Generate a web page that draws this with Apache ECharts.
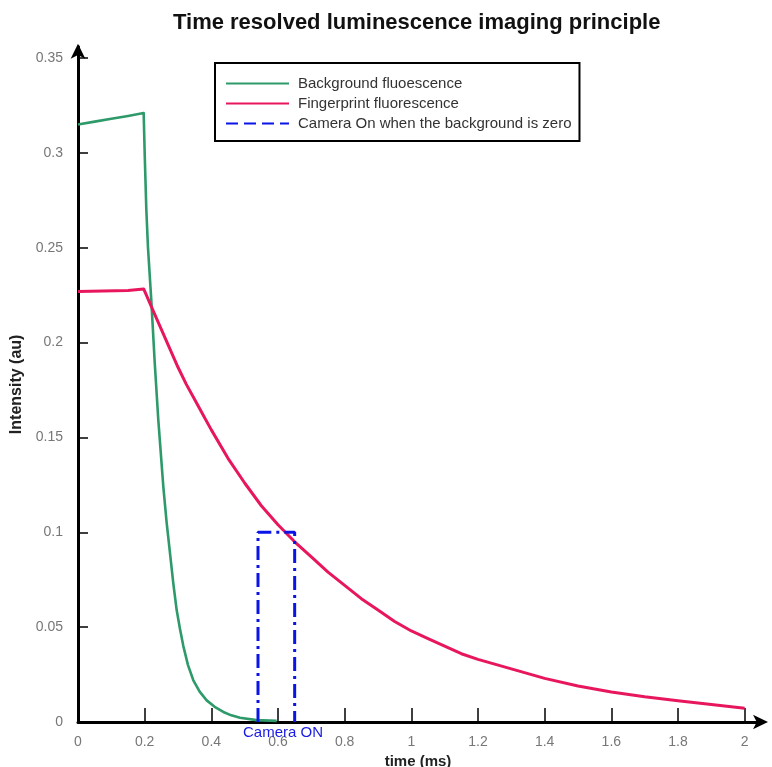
<!DOCTYPE html>
<html>
<head>
<meta charset="utf-8">
<script src="https://cdn.jsdelivr.net/npm/echarts@6/dist/echarts.min.js"></script>
<style>html,body{margin:0;padding:0;background:#fff}#c{width:772px;height:767px}</style>
</head>
<body>
<div id="c"></div>
<script>
var titleText = 'Time resolved luminescence imaging principle';
var seriesNames = ['Background fluoescence', 'Fingerprint fluorescence', 'Camera On when the background is zero'];
var xTicks = [0, 0.2, 0.4, 0.6, 0.8, 1, 1.2, 1.4, 1.6, 1.8, 2];
var yTicks = [0, 0.05, 0.1, 0.15, 0.2, 0.25, 0.3, 0.35];

var backgroundData = [
  [0, 0.315], [0.05, 0.3165], [0.1, 0.318], [0.15, 0.3195], [0.197, 0.321],
  [0.2, 0.30], [0.205, 0.27], [0.21, 0.25], [0.22, 0.222], [0.23, 0.19],
  [0.241, 0.159], [0.256, 0.124], [0.266, 0.105], [0.276, 0.089], [0.286, 0.073],
  [0.296, 0.059], [0.306, 0.049], [0.316, 0.040], [0.33, 0.030], [0.346, 0.022],
  [0.365, 0.016], [0.386, 0.0114], [0.41, 0.008], [0.436, 0.0053], [0.46, 0.0035],
  [0.486, 0.0022], [0.536, 0.001], [0.596, 0.0006]
];
var fingerprintData = [
  [0, 0.227], [0.15, 0.2275], [0.197, 0.2283], [0.225, 0.217], [0.25, 0.207],
  [0.275, 0.197], [0.3, 0.187], [0.325, 0.178], [0.35, 0.170], [0.375, 0.162],
  [0.4, 0.154], [0.45, 0.139], [0.5, 0.126], [0.55, 0.114], [0.6, 0.104],
  [0.65, 0.095], [0.7, 0.087], [0.75, 0.079], [0.8, 0.072], [0.85, 0.065],
  [0.9, 0.059], [0.95, 0.053], [1.0, 0.048], [1.05, 0.044], [1.1, 0.040],
  [1.15, 0.036], [1.2, 0.033], [1.3, 0.028], [1.4, 0.023], [1.5, 0.019],
  [1.6, 0.0158], [1.7, 0.0133], [1.8, 0.0112], [1.9, 0.0092], [2.0, 0.0072]
];
var cameraData = [[0.54, 0], [0.54, 0.1], [0.65, 0.1], [0.65, 0]];
var cameraLabel = 'Camera ON';
var cameraLabelPos = [0.615, 0];

var chart = echarts.init(document.getElementById('c'), null, {renderer: 'canvas'});
var font = 'Liberation Sans, Arial, sans-serif';
chart.setOption({
  backgroundColor: '#ffffff',
  animation: false,
  title: {
    text: titleText, left: 168, top: 7,
    textStyle: {fontFamily: font, fontWeight: 'bold', fontSize: 22, color: '#111'}
  },
  legend: {
    left: 215, top: 63, orient: 'vertical',
    borderColor: '#000', borderWidth: 2, padding: [13, 8, 10, 10],
    itemWidth: 63, itemHeight: 15, itemGap: 5,
    itemStyle: {opacity: 0},
    textStyle: {fontFamily: font, fontSize: 15, color: '#333', padding: [0, 0, 0, 4]},
    data: [
      {name: seriesNames[0]},
      {name: seriesNames[1]},
      {name: seriesNames[2], lineStyle: {type: [12, 6]}}
    ]
  },
  grid: {left: 78, right: 14, top: 46.7, bottom: 45, containLabel: false, outerBoundsMode: 'none'},
  xAxis: {
    type: 'value', min: 0, max: 2.04,
    name: 'time (ms)', nameLocation: 'middle', nameGap: 31,
    nameTextStyle: {fontFamily: font, fontWeight: 'bold', fontSize: 15, color: '#222'},
    axisLine: {show: true, lineStyle: {color: '#000', width: 3}, symbol: ['none', 'arrow'], symbolSize: [11, 15], symbolOffset: [0, 10]},
    axisTick: {show: true, inside: true, length: 14, lineStyle: {color: '#000', width: 1.5}, customValues: xTicks},
    axisLabel: {margin: 13, fontFamily: font, fontSize: 14, color: '#777', customValues: xTicks},
    splitLine: {show: false}
  },
  yAxis: {
    type: 'value', min: 0, max: 0.356,
    name: 'Intensity (au)', nameLocation: 'middle', nameGap: 48,
    nameTextStyle: {fontFamily: font, fontWeight: 'bold', fontSize: 16, color: '#222'},
    axisLine: {show: true, lineStyle: {color: '#000', width: 3}, symbol: ['none', 'arrow'], symbolSize: [11, 15], symbolOffset: [0, 3]},
    axisTick: {show: true, inside: true, length: 10, lineStyle: {color: '#000', width: 1.5}, customValues: yTicks},
    axisLabel: {margin: 15, fontFamily: font, fontSize: 14, color: '#777', customValues: yTicks},
    splitLine: {show: false}
  },
  series: [
    {
      name: seriesNames[0], type: 'line', data: backgroundData,
      symbol: 'none', showSymbol: false,
      lineStyle: {color: '#2e9a6a', width: 2.6, join: 'round'}, itemStyle: {color: '#2e9a6a'}
    },
    {
      name: seriesNames[1], type: 'line', data: fingerprintData,
      symbol: 'none', showSymbol: false,
      lineStyle: {color: '#e8175d', width: 3, join: 'round'}, itemStyle: {color: '#e8175d'}
    },
    {
      name: seriesNames[2], type: 'line', data: cameraData,
      symbol: 'none', showSymbol: false,
      lineStyle: {color: '#0a14e6', width: 3, type: [14, 5, 3, 5]}, itemStyle: {color: '#0a14e6'},
      markPoint: {
        symbol: 'circle', symbolSize: 0,
        label: {show: true, formatter: cameraLabel, position: 'inside', offset: [0, 11],
          fontFamily: font, fontSize: 15, color: '#1a1ae6'},
        data: [{coord: cameraLabelPos}]
      }
    }
  ]
});
</script>
</body>
</html>
